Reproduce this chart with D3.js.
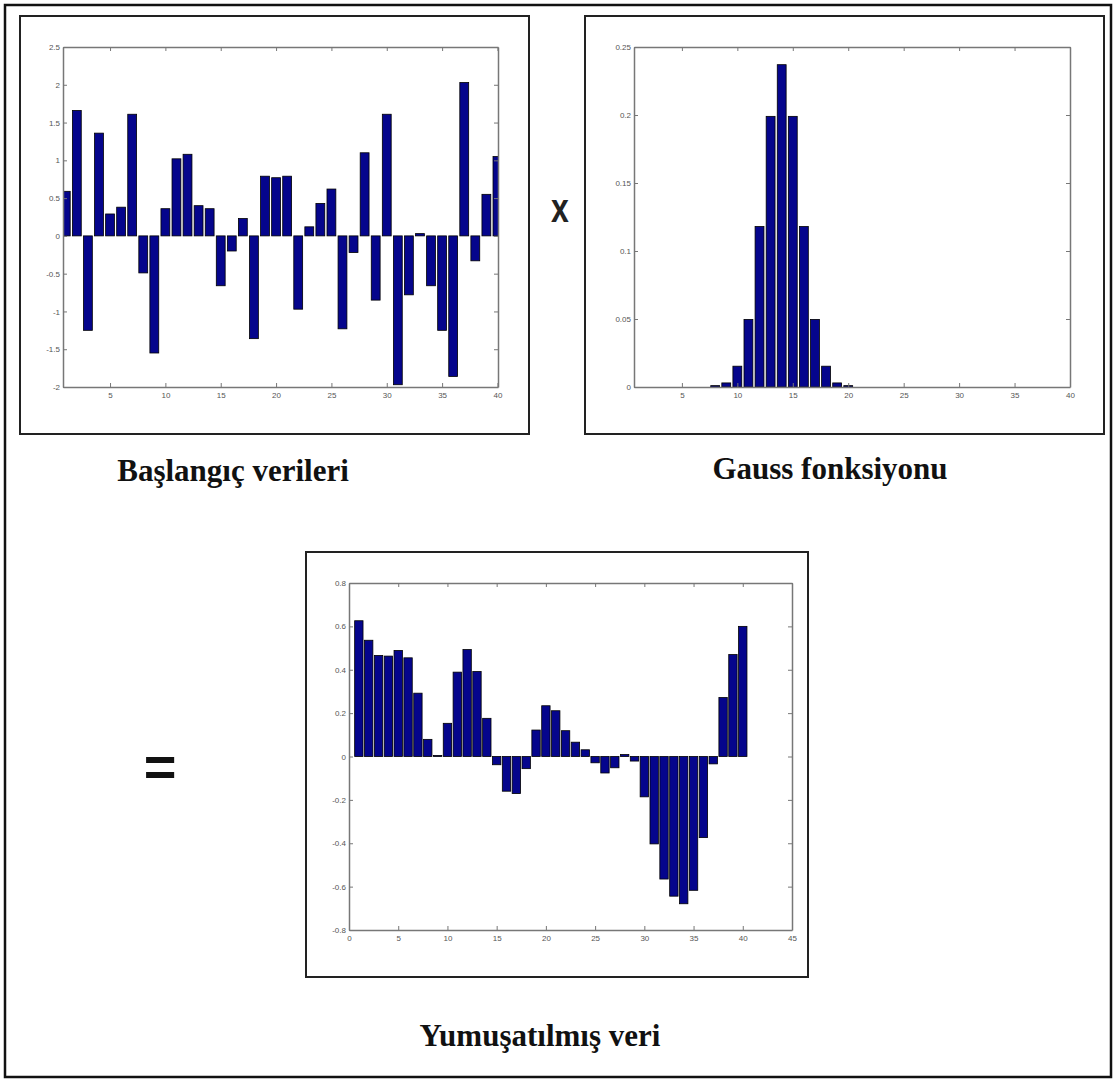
<!DOCTYPE html>
<html>

<head>
    <meta charset=utf-8 />
    <script src="https://cdn.jsdelivr.net/npm/d3@7"></script>
    <title>gauss smoothing</title>
    <style>
        html,
        body {
            margin: 0;
            padding: 0;
            background: white;
        }

        svg {
            display: block;
        }

        .tick text {
            font-family: "Liberation Sans", Arial, sans-serif;
            font-size: 8px;
            fill: #555;
        }

        .tick line,
        .domain {
            stroke: #777;
        }

        .title {
            font-family: "Liberation Serif", "Times New Roman", serif;
            font-weight: bold;
            font-size: 31px;
            fill: #111;
        }
    </style>
</head>

<body>
    <svg width="1118" height="1082"></svg>
    <script>
        // bar positions 1..40
        var bins = [1, 2, 3, 4, 5, 6, 7, 8, 9, 10, 11, 12, 13, 14, 15, 16, 17, 18, 19, 20,
            21, 22, 23, 24, 25, 26, 27, 28, 29, 30, 31, 32, 33, 34, 35, 36, 37, 38, 39, 40];

        // Başlangıç verileri
        var rawValues = [0.59, 1.66, -1.25, 1.36, 0.29, 0.38, 1.61, -0.49, -1.55, 0.36,
            1.02, 1.08, 0.40, 0.36, -0.66, -0.20, 0.23, -1.36, 0.79, 0.77,
            0.79, -0.97, 0.12, 0.43, 0.62, -1.23, -0.22, 1.10, -0.85, 1.61,
            -1.97, -0.78, 0.03, -0.66, -1.25, -1.86, 2.03, -0.33, 0.55, 1.05];

        // Gauss fonksiyonu
        var gaussValues = [0, 0, 0, 0, 0, 0, 0, 0.001, 0.003, 0.0153,
            0.0497, 0.118, 0.199, 0.237, 0.199, 0.118, 0.0497, 0.0153, 0.003, 0.001,
            0, 0, 0, 0, 0, 0, 0, 0, 0, 0,
            0, 0, 0, 0, 0, 0, 0, 0, 0, 0];

        // Yumuşatılmış veri
        var smoothValues = [0.626, 0.536, 0.466, 0.463, 0.489, 0.455, 0.292, 0.079, 0.005, 0.153,
            0.389, 0.493, 0.392, 0.176, -0.038, -0.160, -0.171, -0.056, 0.122, 0.234,
            0.211, 0.119, 0.066, 0.031, -0.029, -0.076, -0.052, 0.009, -0.021, -0.186,
            -0.403, -0.565, -0.644, -0.679, -0.617, -0.374, -0.034, 0.272, 0.470, 0.600];

        var rawXTicks = [5, 10, 15, 20, 25, 30, 35, 40];
        var rawYTicks = [-2, -1.5, -1, -0.5, 0, 0.5, 1, 1.5, 2, 2.5];
        var gaussXTicks = [5, 10, 15, 20, 25, 30, 35, 40];
        var gaussYTicks = [0, 0.05, 0.1, 0.15, 0.2, 0.25];
        var smoothXTicks = [0, 5, 10, 15, 20, 25, 30, 35, 40, 45];
        var smoothYTicks = [-0.8, -0.6, -0.4, -0.2, 0, 0.2, 0.4, 0.6, 0.8];

        var barColor = '#05058c';

        var svg = d3.select('svg');

        // outer frame
        svg.append('rect')
            .attr('x', 5).attr('y', 5)
            .attr('width', 1106).attr('height', 1072)
            .attr('fill', 'none')
            .attr('stroke', '#111')
            .attr('stroke-width', 2.5);

        drawPanel({
            id: 'raw',
            box: [20, 16, 509, 418],
            plot: [63, 47, 498, 387],
            xDomain: [0.75, 40.05],
            yDomain: [-2, 2.5],
            values: rawValues,
            xTicks: rawXTicks,
            yTicks: rawYTicks,
            barWidth: 0.8
        });

        drawPanel({
            id: 'gauss',
            box: [585, 16, 519, 418],
            plot: [634, 47, 1070, 387],
            xDomain: [0.68, 40],
            yDomain: [0, 0.25],
            values: gaussValues,
            xTicks: gaussXTicks,
            yTicks: gaussYTicks,
            barWidth: 0.8
        });

        drawPanel({
            id: 'smooth',
            box: [306, 552, 502, 425],
            plot: [349, 583, 792, 930],
            xDomain: [0, 45],
            yDomain: [-0.8, 0.8],
            values: smoothValues,
            xTicks: smoothXTicks,
            yTicks: smoothYTicks,
            barWidth: 0.85
        });

        function drawPanel(p) {
            var left = p.plot[0], top = p.plot[1], right = p.plot[2], bottom = p.plot[3];

            // panel frame
            svg.append('rect')
                .attr('x', p.box[0]).attr('y', p.box[1])
                .attr('width', p.box[2]).attr('height', p.box[3])
                .attr('fill', 'white')
                .attr('stroke', '#222')
                .attr('stroke-width', 2);

            var x = d3.scaleLinear().domain(p.xDomain).range([left, right]);
            var y = d3.scaleLinear().domain(p.yDomain).range([bottom, top]);

            svg.append('clipPath')
                .attr('id', 'clip-' + p.id)
                .append('rect')
                .attr('x', left).attr('y', top)
                .attr('width', right - left).attr('height', bottom - top);

            var data = bins.map(function (b, i) {
                return { bin: b, value: p.values[i] };
            }).filter(function (d) {
                return d.value !== 0;
            });

            svg.append('g')
                .attr('clip-path', 'url(#clip-' + p.id + ')')
                .selectAll('rect')
                .data(data)
                .enter().append('rect')
                .attr('x', function (d) { return x(d.bin - p.barWidth / 2); })
                .attr('width', function (d) { return x(d.bin + p.barWidth / 2) - x(d.bin - p.barWidth / 2); })
                .attr('y', function (d) { return y(Math.max(0, d.value)); })
                .attr('height', function (d) { return Math.abs(y(d.value) - y(0)); })
                .attr('fill', barColor)
                .attr('stroke', '#000')
                .attr('stroke-width', 0.8);

            var fmt = function (d) { return String(d); };

            svg.append('g')
                .attr('transform', 'translate(0,' + bottom + ')')
                .call(d3.axisBottom(x).tickValues(p.xTicks).tickFormat(fmt)
                    .tickSizeInner(-4).tickSizeOuter(0).tickPadding(5));

            svg.append('g')
                .attr('transform', 'translate(0,' + top + ')')
                .call(d3.axisTop(x).tickValues(p.xTicks).tickFormat('')
                    .tickSizeInner(-4).tickSizeOuter(0));

            svg.append('g')
                .attr('transform', 'translate(' + left + ',0)')
                .call(d3.axisLeft(y).tickValues(p.yTicks).tickFormat(fmt)
                    .tickSizeInner(-4).tickSizeOuter(0).tickPadding(3));

            svg.append('g')
                .attr('transform', 'translate(' + right + ',0)')
                .call(d3.axisRight(y).tickValues(p.yTicks).tickFormat('')
                    .tickSizeInner(-4).tickSizeOuter(0));

            svg.selectAll('.domain').attr('stroke-width', 1.5);
        }

        // captions
        svg.append('text').attr('class', 'title')
            .attr('x', 233).attr('y', 481)
            .attr('text-anchor', 'middle')
            .text('Başlangıç verileri');

        svg.append('text').attr('class', 'title')
            .attr('x', 830).attr('y', 479)
            .attr('text-anchor', 'middle')
            .text('Gauss fonksiyonu');

        svg.append('text').attr('class', 'title')
            .attr('x', 540).attr('y', 1046)
            .attr('text-anchor', 'middle')
            .text('Yumuşatılmış veri');

        // operators
        svg.append('text')
            .attr('transform', 'translate(560,222) scale(0.8,1)')
            .attr('text-anchor', 'middle')
            .attr('font-family', '"Liberation Sans", Arial, sans-serif')
            .attr('font-weight', 'bold')
            .attr('font-size', 40)
            .attr('fill', '#222')
            .text('x');

        svg.append('text')
            .attr('x', 160).attr('y', 786)
            .attr('text-anchor', 'middle')
            .attr('font-family', '"Liberation Sans", Arial, sans-serif')
            .attr('font-weight', 'bold')
            .attr('font-size', 56)
            .attr('fill', '#111')
            .text('=');
    </script>
</body>

</html>
